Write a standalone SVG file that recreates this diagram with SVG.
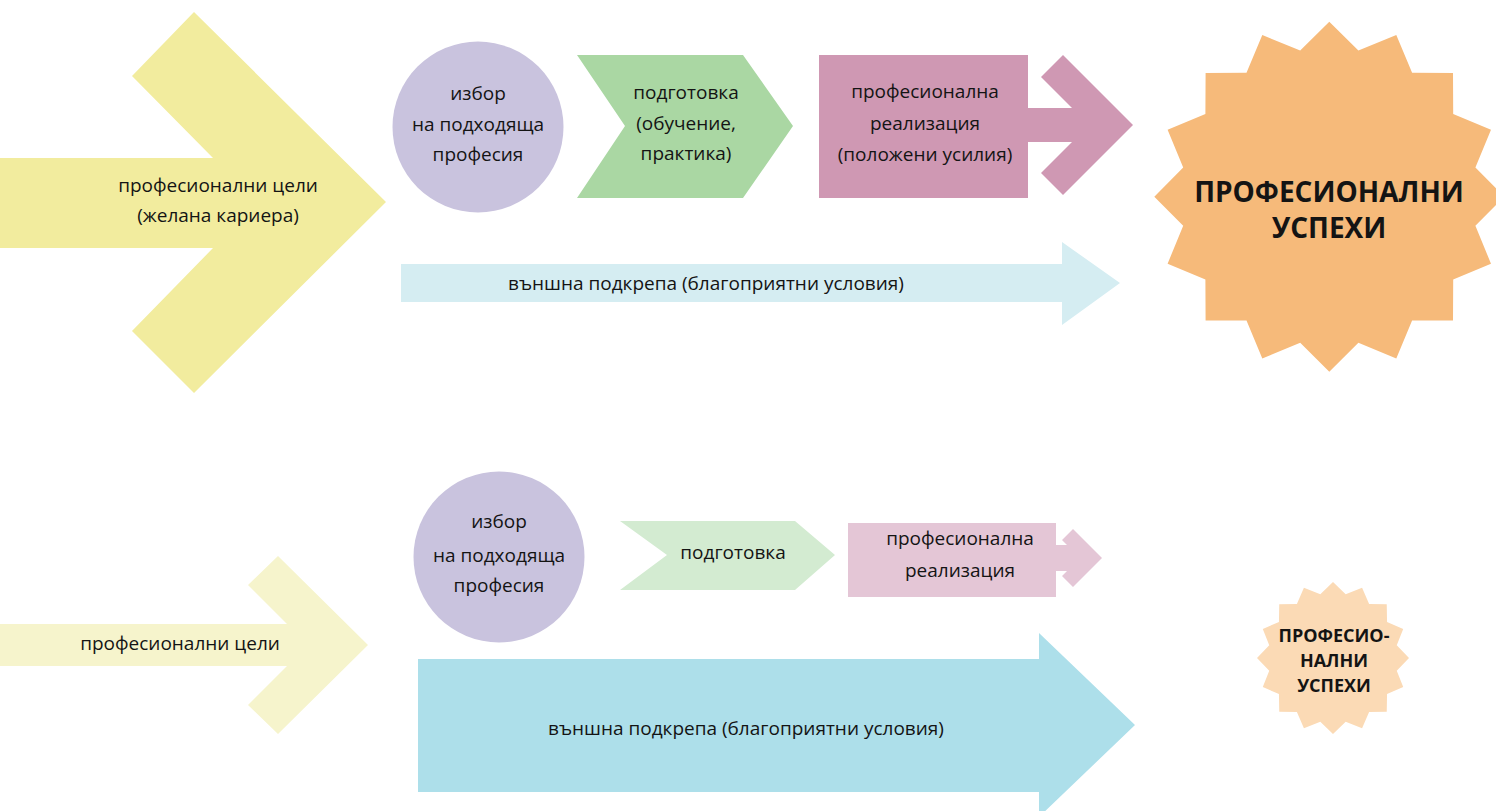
<svg xmlns="http://www.w3.org/2000/svg" width="1496" height="811" viewBox="0 0 1496 811" lang="bg" xml:lang="bg">
<style>
text{font-family:"Open Sans","Noto Sans","DejaVu Sans",sans-serif;fill:#141414;text-anchor:middle}
.t{font-size:19px}
.b{font-weight:bold}
</style>
<rect width="1496" height="811" fill="#ffffff"/>
<g id="goals-top">
<polygon points="0,158 213,158 132,76 194,12 386,202 194,393 132,331 213,248 0,248" fill="#F2EC9E"/>
<text class="t" x="218" y="192">професионални цели</text>
<text class="t" x="218" y="222">(желана кариера)</text>
</g>
<g id="choice-top">
<circle cx="478" cy="127" r="85.5" fill="#C9C3DE"/>
<text class="t" x="478" y="100">избор</text>
<text class="t" x="478" y="131">на подходяща</text>
<text class="t" x="478" y="161">професия</text>
</g>
<g id="prep-top">
<polygon points="577,55 743,55 793,126 743,198 577,198 625,126" fill="#AAD7A3"/>
<text class="t" x="686" y="99">подготовка</text>
<text class="t" x="686" y="130">(обучение,</text>
<text class="t" x="686" y="160">практика)</text>
</g>
<g id="real-top">
<polygon points="819,55 1028,55 1028,108 1072,108 1041,77 1063,55 1133,125 1063,195 1041,173 1072,142 1028,142 1028,198 819,198" fill="#CF98B3"/>
<text class="t" x="925" y="98">професионална</text>
<text class="t" x="925" y="130">реализация</text>
<text class="t" x="925" y="161">(положени усилия)</text>
</g>
<g id="support-top">
<polygon points="401,264 1062,264 1062,242 1120,283 1062,325 1062,302 401,302" fill="#D5EDF2"/>
<text class="t" x="706" y="290">външна подкрепа (благоприятни условия)</text>
</g>
<g id="success-top">
<polygon points="1504.3,196.7 1475.4,225.8 1491.0,263.7 1453.2,279.5 1453.0,320.4 1412.1,320.6 1396.3,358.4 1358.4,342.8 1329.3,371.7 1300.2,342.8 1262.3,358.4 1246.5,320.6 1205.6,320.4 1205.4,279.5 1167.6,263.7 1183.2,225.8 1154.3,196.7 1183.2,167.6 1167.6,129.7 1205.4,113.9 1205.6,73.0 1246.5,72.8 1262.3,35.0 1300.2,50.6 1329.3,21.7 1358.4,50.6 1396.3,35.0 1412.1,72.8 1453.0,73.0 1453.2,113.9 1491.0,129.7 1475.4,167.6" fill="#F6BA7A"/>
<text class="b" x="1329" y="202" font-size="28">ПРОФЕСИОНАЛНИ</text>
<text class="b" x="1329" y="238" font-size="28">УСПЕХИ</text>
</g>
<g id="goals-bottom">
<polygon points="0,624 287,624 248,585 278,556 368,645 278,734 248,705 287,666 0,666" fill="#F6F4CC"/>
<text class="t" x="180" y="650">професионални цели</text>
</g>
<g id="choice-bottom">
<circle cx="499" cy="557" r="85.5" fill="#C9C3DE"/>
<text class="t" x="499" y="528">избор</text>
<text class="t" x="499" y="562">на подходяща</text>
<text class="t" x="499" y="592">професия</text>
</g>
<g id="prep-bottom">
<polygon points="620,521 795,521 835,555 795,590 620,590 667,555" fill="#D3EBD1"/>
<text class="t" x="733" y="559">подготовка</text>
</g>
<g id="real-bottom">
<polygon points="848,523 1056,523 1056,545 1067,545 1062,540 1073,529 1102,558 1073,587 1062,576 1067,571 1056,571 1056,597 848,597" fill="#E4C6D6"/>
<text class="t" x="960" y="545">професионална</text>
<text class="t" x="960" y="577">реализация</text>
</g>
<g id="support-bottom">
<polygon points="418,659 1039,659 1039,633 1135,725 1039,817 1039,792 418,792" fill="#ADDFEA"/>
<text class="t" x="746" y="735">външна подкрепа (благоприятни условия)</text>
</g>
<g id="success-bottom">
<polygon points="1409,658 1396.75,670.68 1403.21,687.08 1387.05,694.11 1386.74,711.74 1369.11,712.05 1362.08,728.21 1345.68,721.75 1333,734 1320.32,721.75 1303.92,728.21 1296.89,712.05 1279.26,711.74 1278.95,694.11 1262.79,687.08 1269.25,670.68 1257,658 1269.25,645.32 1262.79,628.92 1278.95,621.89 1279.26,604.26 1296.89,603.95 1303.92,587.79 1320.32,594.25 1333,582 1345.68,594.25 1362.08,587.79 1369.11,603.95 1386.74,604.26 1387.05,621.89 1403.21,628.92 1396.75,645.32" fill="#FBDAB5"/>
<text class="b" x="1334" y="642" font-size="18">ПРОФЕСИО-</text>
<text class="b" x="1334" y="667" font-size="18">НАЛНИ</text>
<text class="b" x="1334" y="692" font-size="18">УСПЕХИ</text>
</g>
<g id="connectors"></g>
</svg>
